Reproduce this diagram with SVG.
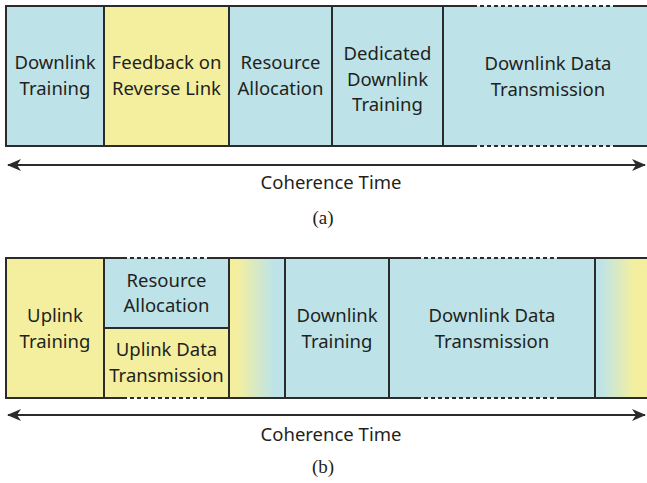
<svg xmlns="http://www.w3.org/2000/svg" width="647" height="483" viewBox="0 0 647 483">
<style>
.b{fill:#bde3e8}
.y{fill:#f3ef9f}
.ln{stroke:#2b2b2b;stroke-width:2;fill:none}
.dash{stroke:#2b2b2b;stroke-width:2;fill:none;stroke-dasharray:4 3}
.t{font-family:"Noto Sans","Open Sans",sans-serif;font-size:18.5px;fill:#231f20;text-anchor:middle}
.c{font-family:"Liberation Serif",serif;font-size:19px;fill:#231f20;text-anchor:middle}
</style>
<defs>
<linearGradient id="g1" x1="0" x2="1" y1="0" y2="0">
<stop offset="0.15" stop-color="#f3ef9f"/>
<stop offset="0.8" stop-color="#bde3e8"/>
</linearGradient>
<linearGradient id="g2" x1="0" x2="1" y1="0" y2="0">
<stop offset="0.1" stop-color="#bde3e8"/>
<stop offset="0.75" stop-color="#f3ef9f"/>
</linearGradient>
<marker id="ah" viewBox="0 0 14 12" refX="13" refY="6" markerWidth="14" markerHeight="12" markerUnits="userSpaceOnUse" orient="auto-start-reverse">
<path d="M0,0 L14,6 L0,12 L4,6 Z" fill="#2b2b2b"/>
</marker>
</defs>

<!-- (a) -->
<g id="a-downlink-training">
<rect class="b" x="6" y="6" width="98" height="140"/>
<text class="t" x="55" y="69">Downlink</text>
<text class="t" x="55" y="95">Training</text>
</g>
<g id="a-feedback">
<rect class="y" x="104" y="6" width="125" height="140"/>
<text class="t" x="166.5" y="69">Feedback on</text>
<text class="t" x="166.5" y="95">Reverse Link</text>
</g>
<g id="a-resource">
<rect class="b" x="229" y="6" width="103" height="140"/>
<text class="t" x="280.5" y="69">Resource</text>
<text class="t" x="280.5" y="95">Allocation</text>
</g>
<g id="a-dedicated">
<rect class="b" x="332" y="6" width="111" height="140"/>
<text class="t" x="387.5" y="60">Dedicated</text>
<text class="t" x="387.5" y="86">Downlink</text>
<text class="t" x="387.5" y="111">Training</text>
</g>
<g id="a-data">
<rect class="b" x="443" y="6" width="204" height="140"/>
<text class="t" x="548" y="70">Downlink Data</text>
<text class="t" x="548" y="96">Transmission</text>
</g>
<g id="a-borders">
<path class="ln" d="M647,6 H617 M473,6 H6 V146 H473 M617,146 H647 M104,6 V146 M229,6 V146 M332,6 V146 M443,6 V146"/>
<path class="dash" d="M473,6 H617 M473,146 H617"/>
</g>

<!-- (b) -->
<g id="b-uplink-training">
<rect class="y" x="6" y="258" width="98" height="140"/>
<text class="t" x="55" y="322">Uplink</text>
<text class="t" x="55" y="348">Training</text>
</g>
<g id="b-resource">
<rect class="b" x="104" y="258" width="125" height="70"/>
<text class="t" x="166.5" y="287">Resource</text>
<text class="t" x="166.5" y="312">Allocation</text>
</g>
<g id="b-uplink-data">
<rect class="y" x="104" y="328" width="125" height="70"/>
<text class="t" x="166.5" y="356">Uplink Data</text>
<text class="t" x="166.5" y="382">Transmission</text>
</g>
<g id="b-guard1">
<rect fill="url(#g1)" x="229" y="258" width="56" height="140"/>
</g>
<g id="b-downlink-training">
<rect class="b" x="285" y="258" width="104" height="140"/>
<text class="t" x="337" y="322">Downlink</text>
<text class="t" x="337" y="348">Training</text>
</g>
<g id="b-data">
<rect class="b" x="389" y="258" width="206" height="140"/>
<text class="t" x="492" y="322">Downlink Data</text>
<text class="t" x="492" y="348">Transmission</text>
</g>
<g id="b-guard2">
<rect fill="url(#g2)" x="595" y="258" width="52" height="140"/>
</g>
<g id="b-borders">
<path class="ln" d="M123,258 H6 V398 H123 M210,258 H417 M560,258 H647 M210,398 H417 M560,398 H647 M104,258 V398 M104,328 H229 M229,258 V398 M285,258 V398 M389,258 V398 M595,258 V398"/>
<path class="dash" d="M123,258 H210 M123,398 H210 M417,258 H560 M417,398 H560"/>
</g>

<g id="connectors">
<line class="ln" x1="8" y1="165" x2="645" y2="165" marker-start="url(#ah)" marker-end="url(#ah)"/>
<line class="ln" x1="8" y1="415" x2="645" y2="415" marker-start="url(#ah)" marker-end="url(#ah)"/>
</g>
<g id="labels">
<text class="t" x="331" y="189">Coherence Time</text>
<text class="c" x="323" y="224">(a)</text>
<text class="t" x="331" y="441">Coherence Time</text>
<text class="c" x="323" y="473">(b)</text>
</g>
</svg>
